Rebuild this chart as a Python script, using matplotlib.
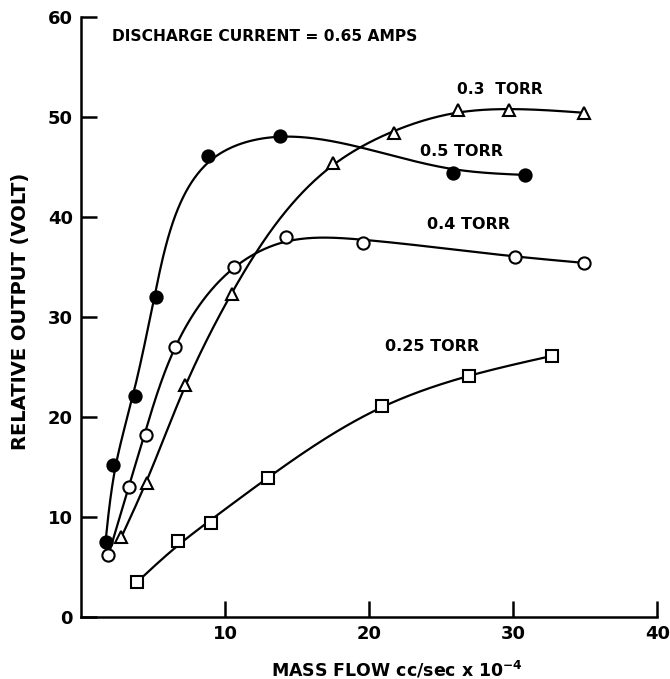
import numpy as np
import matplotlib.pyplot as plt

# Mass flow (cc/sec x 1e-4) and relative output (volt) for each pressure
flow_05 = [1.7, 2.2, 3.75, 5.2, 8.8, 13.8, 25.8, 30.8]
out_05 = [7.5, 15.2, 22.1, 32.0, 46.1, 48.1, 44.4, 44.2]

flow_04 = [1.9, 3.3, 4.5, 6.5, 10.6, 14.2, 19.6, 30.1, 34.9]
out_04 = [6.2, 13.0, 18.2, 27.0, 35.0, 38.0, 37.4, 36.0, 35.4]

flow_03 = [2.8, 4.6, 7.2, 10.5, 17.5, 21.7, 26.2, 29.7, 34.9]
out_03 = [8.0, 13.4, 23.2, 32.3, 45.4, 48.4, 50.7, 50.7, 50.4]

flow_025 = [3.9, 6.7, 9.0, 13.0, 20.9, 26.9, 32.7]
out_025 = [3.5, 7.6, 9.4, 13.9, 21.1, 24.1, 26.1]

x_ticks = [10, 20, 30, 40]
y_ticks = [0, 10, 20, 30, 40, 50, 60]

PX_X, PX_Y = 14.4, 10.0  # approx pixels per data unit


def smooth(xs, ys, lam=4e4, n=500):
    """Hand-drawn style curve: parametric smoothing spline through the points."""
    px = np.asarray(xs) * PX_X
    py = np.asarray(ys) * PX_Y
    t = np.concatenate([[0], np.cumsum(np.hypot(np.diff(px), np.diff(py)))])
    h = t[-1] / (n - 1)
    idx = np.round(t / h).astype(int)
    S = np.zeros((len(t), n))
    S[np.arange(len(t)), idx] = 1.0
    w = np.ones(len(t))
    w[0] = w[-1] = 20.0
    D = np.diff(np.eye(n), 2, axis=0)
    A = S.T @ (w[:, None] * S) + (lam / h ** 3) * D.T @ D
    fx = np.linalg.solve(A, S.T @ (w * px))
    fy = np.linalg.solve(A, S.T @ (w * py))
    return fx / PX_X, fy / PX_Y


plt.rcParams['font.family'] = ['DejaVu Sans']
plt.rcParams['font.weight'] = 'bold'

fig = plt.figure(figsize=(6.7, 6.79), dpi=100)
ax = fig.add_axes([0.121, 0.0913, 0.86, 0.884])

series = [
    (flow_05, out_05, 'o', 'black'),
    (flow_04, out_04, 'o', 'white'),
    (flow_03, out_03, '^', 'white'),
    (flow_025, out_025, 's', 'white'),
]
for xs, ys, mk, face in series:
    cx, cy = smooth(xs, ys)
    ax.plot(cx, cy, color='black', lw=1.6, zorder=2)
    ax.plot(xs, ys, ls='none', marker=mk, ms=8.8, mfc=face, mec='black',
            mew=1.5, zorder=3)

ax.text(2.15, 58.0, 'DISCHARGE CURRENT = 0.65 AMPS', fontsize=11.2,
        fontweight='bold', va='center')
ax.text(26.1, 52.7, '0.3  TORR', fontsize=11.2, fontweight='bold', va='center')
ax.text(23.5, 46.5, '0.5 TORR', fontsize=11.5, fontweight='bold', va='center')
ax.text(24.0, 39.2, '0.4 TORR', fontsize=11.5, fontweight='bold', va='center')
ax.text(21.1, 27.0, '0.25 TORR', fontsize=11.5, fontweight='bold', va='center')

ax.set_xlim(0, 40)
ax.set_ylim(0, 60)
ax.set_xticks(x_ticks)
ax.set_yticks(y_ticks)
ax.tick_params(direction='in', length=11.5, width=1.8, labelsize=13, pad=6)
for s in ['top', 'right']:
    ax.spines[s].set_visible(False)
for s in ['left', 'bottom']:
    ax.spines[s].set_linewidth(1.8)

ax.set_xlabel('MASS FLOW cc/sec x 10$^{-4}$', fontsize=12.5, fontweight='bold')
ax.xaxis.set_label_coords(0.549, -0.07)
ax.set_ylabel('RELATIVE OUTPUT (VOLT)', fontsize=14, fontweight='bold')
ax.yaxis.set_label_coords(-0.088, 0.51)

fig.savefig('out.png', dpi=100)
